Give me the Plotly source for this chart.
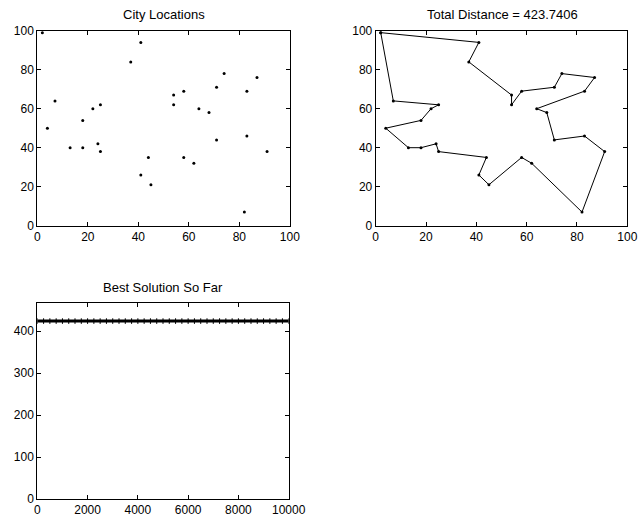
import plotly.graph_objects as go

# City coordinates (index order)
city_x = [2, 4, 7, 13, 18, 18, 22, 25, 24, 25, 37, 41, 44, 41, 45,
          54, 54, 58, 58, 62, 64, 68, 71, 71, 74, 83, 83, 82, 87, 91]
city_y = [99, 50, 64, 40, 40, 54, 60, 62, 42, 38, 84, 94, 35, 26, 21,
          67, 62, 69, 35, 32, 60, 58, 71, 44, 78, 69, 46, 7, 76, 38]

# Best tour (indices into city lists), closed loop
tour = [0, 11, 10, 15, 16, 17, 22, 24, 28, 25, 20, 21, 23, 26, 29, 27,
        19, 18, 14, 13, 12, 9, 8, 4, 3, 1, 5, 6, 7, 2, 0]
total_distance = "423.7406"

# Best solution so far history
best_iters = list(range(0, 10001, 250))
best_dist = [423.7406] * len(best_iters)

W, H = 642, 520
fam = "Liberation Sans, Arial, Helvetica, sans-serif"
tick_font = dict(family=fam, size=12, color="black")
title_font = dict(family=fam, size=13, color="black")

def px_x(a, b):
    return [a / W, b / W]

def px_y(top, bottom):
    return [1 - bottom / H, 1 - top / H]

fig = go.Figure()

fig.add_trace(go.Scatter(x=city_x, y=city_y, mode="markers",
                         marker=dict(color="black", size=3),
                         xaxis="x", yaxis="y", showlegend=False))

fig.add_trace(go.Scatter(x=[city_x[i] for i in tour], y=[city_y[i] for i in tour],
                         mode="lines+markers",
                         line=dict(color="black", width=1),
                         marker=dict(color="black", size=3),
                         xaxis="x2", yaxis="y2", showlegend=False))

fig.add_trace(go.Scatter(x=best_iters, y=best_dist, mode="lines+markers",
                         line=dict(color="black", width=3),
                         marker=dict(color="black", size=4, symbol="line-ns-open",
                                     line=dict(width=1, color="black")),
                         xaxis="x3", yaxis="y3", showlegend=False))

ax_common = dict(showline=True, linecolor="black", linewidth=1, mirror="ticks",
                 ticks="inside", ticklen=4, tickcolor="black", tickwidth=1,
                 showgrid=False, zeroline=False, tickfont=tick_font, automargin=False,
                 tickformat="d")

fig.update_layout(
    width=W, height=H, autosize=False,
    margin=dict(l=0, r=0, t=0, b=0, pad=0, autoexpand=False),
    paper_bgcolor="white", plot_bgcolor="white",
    font=tick_font,
    xaxis=dict(domain=px_x(37.3, 289.8), range=[0, 100], dtick=20, anchor="y", **ax_common),
    yaxis=dict(domain=px_y(30.7, 225.7), range=[0, 100], dtick=20, anchor="x", **ax_common),
    xaxis2=dict(domain=px_x(375.7, 627.3), range=[0, 100], dtick=20, anchor="y2", **ax_common),
    yaxis2=dict(domain=px_y(30.7, 225.7), range=[0, 100], dtick=20, anchor="x2", **ax_common),
    xaxis3=dict(domain=px_x(37.3, 288.7), range=[0, 10000], dtick=2000, anchor="y3", **ax_common),
    yaxis3=dict(domain=px_y(303.3, 499), range=[0, 466.1], tickvals=[0, 100, 200, 300, 400],
                anchor="x3", **ax_common),
    annotations=[
        dict(text="City Locations", x=163.8 / W, y=1 - 14 / H, xref="paper", yref="paper",
             showarrow=False, font=title_font, xanchor="center", yanchor="middle"),
        dict(text="Total Distance = " + total_distance, x=502.5 / W, y=1 - 14 / H,
             xref="paper", yref="paper", showarrow=False, font=title_font,
             xanchor="center", yanchor="middle"),
        dict(text="Best Solution So Far", x=163 / W, y=1 - 287 / H, xref="paper", yref="paper",
             showarrow=False, font=title_font, xanchor="center", yanchor="middle"),
    ],
)

fig.write_html("out.html")
